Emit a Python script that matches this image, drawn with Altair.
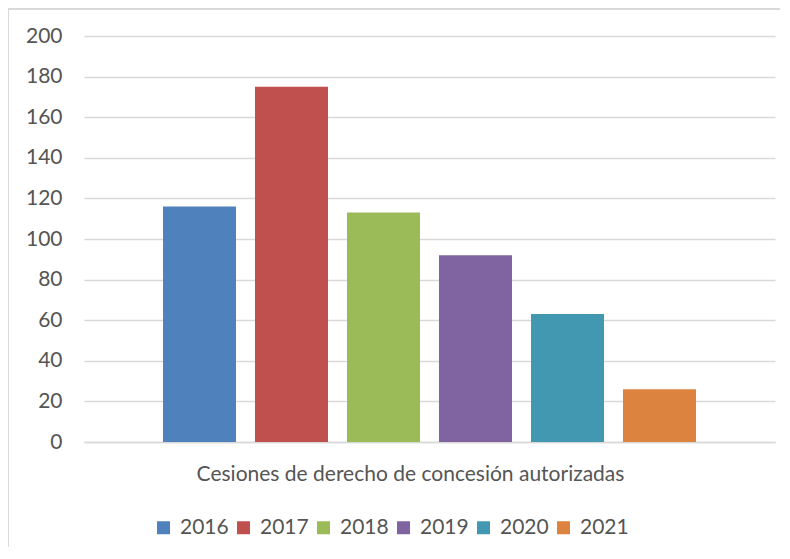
import altair as alt
import pandas as pd

categoria = "Cesiones de derecho de concesión autorizadas"
anios = ["2016", "2017", "2018", "2019", "2020", "2021"]
valores = [116, 175, 113, 92, 63, 26]
colores = ["#4F81BD", "#C0504D", "#9BBB59", "#8064A2", "#4398B1", "#DC843F"]
y_ticks = [0, 20, 40, 60, 80, 100, 120, 140, 160, 180, 200]

df = pd.DataFrame({"categoria": [categoria] * len(anios), "anio": anios, "valor": valores})

W, H = 691, 406
FONT = "Lato"
GRAY = "#555555"

bars = alt.Chart(df).mark_bar().encode(
    x=alt.X("categoria:N", title=None,
            scale=alt.Scale(paddingInner=0, paddingOuter=0.1259),
            axis=alt.Axis(labelAngle=0, ticks=False, domain=True, domainColor="#d9d9d9",
                          domainWidth=1.5, labelFontSize=21, labelColor=GRAY, labelFont=FONT,
                          labelPadding=21, labelLimit=1000, labelOffset=-19, grid=False)),
    xOffset=alt.XOffset("anio:N", sort=anios,
                        scale=alt.Scale(paddingInner=0.2065, paddingOuter=0.1033)),
    y=alt.Y("valor:Q", title=None,
            scale=alt.Scale(domain=[0, 200], nice=False),
            axis=alt.Axis(values=y_ticks, ticks=False, domain=False, grid=True,
                          gridColor="#d9d9d9", gridWidth=1.5, labelFontSize=21,
                          labelColor=GRAY, labelFont=FONT, labelPadding=22)),
    color=alt.Color("anio:N", sort=anios,
                    scale=alt.Scale(domain=anios, range=colores),
                    legend=alt.Legend(title=None, orient="none", direction="horizontal",
                                      columns=6, legendX=69, legendY=481,
                                      symbolType="square", symbolSize=169,
                                      symbolStrokeWidth=0, labelFontSize=21,
                                      labelColor=GRAY, labelFont=FONT, labelOffset=6,
                                      columnPadding=4)),
)

frame = alt.Chart(df).mark_rect(fill=None, stroke="#d9d9d9", strokeWidth=2).encode(
    x=alt.value(-76), x2=alt.value(W + 40), y=alt.value(-27.5), y2=alt.value(H + 200)
)

chart = alt.layer(frame, bars).properties(
    width=W, height=H,
    autosize=alt.AutoSizeParams(type="none"),
    padding={"left": 76, "top": 28, "right": 5, "bottom": 105},
).configure(background="white").configure_view(stroke=None)

chart.save("out.html", embed_options={"renderer": "svg", "actions": False})
